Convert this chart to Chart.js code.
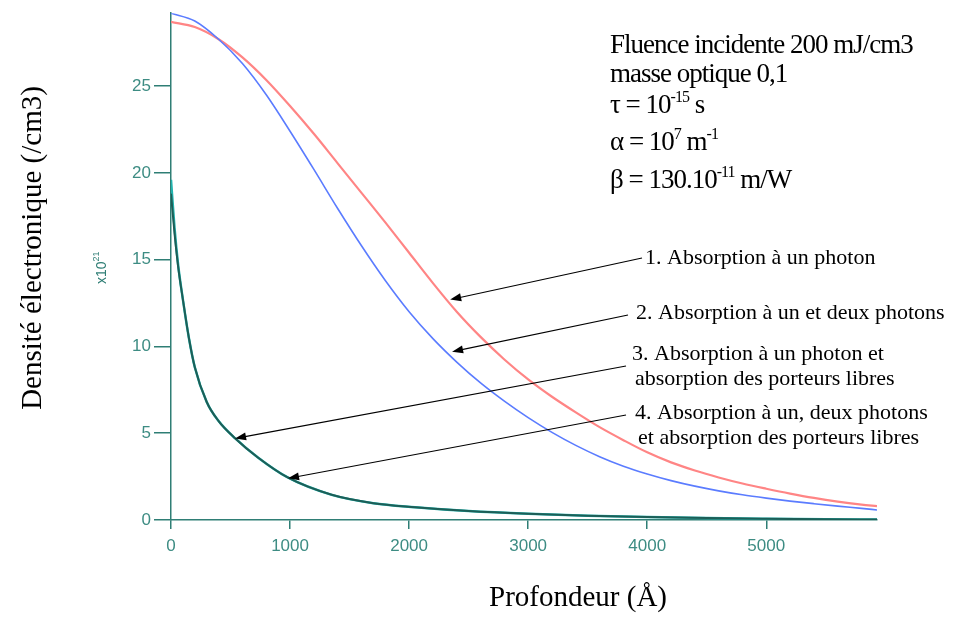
<!DOCTYPE html>
<html>
<head>
<meta charset="utf-8">
<script src="https://cdn.jsdelivr.net/npm/chart.js@4.4.1/dist/chart.umd.min.js"></script>
<style>
    html, body { margin: 0; padding: 0; background: #fff; }
    #wrap { width: 954px; height: 618px; position: relative; }
</style>
</head>
<body>
<div id="wrap"><canvas id="chart"></canvas></div>
<script>
// profondeur (Angstrom) / densité (x10^21 /cm3)
const depthRed = [0, 200, 400, 600, 800, 1000, 1200, 1400, 1600, 1800, 2000, 2200, 2400, 2600, 2800, 3000, 3200, 3400, 3600, 3800, 4000, 4200, 4400, 4600, 4800, 5000, 5200, 5400, 5600, 5800, 5930];
const densRed = [28.7, 28.4, 27.7, 26.65, 25.35, 23.85, 22.25, 20.55, 18.85, 17.15, 15.4, 13.65, 12.0, 10.55, 9.25, 8.1, 7.1, 6.2, 5.35, 4.6, 3.9, 3.32, 2.85, 2.45, 2.1, 1.8, 1.52, 1.27, 1.06, 0.89, 0.8];

const depthBlue = [0, 200, 400, 600, 800, 1000, 1200, 1400, 1600, 1800, 2000, 2200, 2400, 2600, 2800, 3000, 3200, 3400, 3600, 3800, 4000, 4200, 4400, 4600, 4800, 5000, 5200, 5400, 5600, 5800, 5930];
const densBlue = [29.2, 28.75, 27.7, 26.3, 24.5, 22.4, 20.2, 17.95, 15.8, 13.8, 12.0, 10.45, 9.1, 7.9, 6.85, 5.9, 5.05, 4.3, 3.65, 3.1, 2.65, 2.27, 1.95, 1.68, 1.45, 1.26, 1.09, 0.94, 0.8, 0.67, 0.58];

const depthFree = [0, 30, 60, 100, 150, 200, 300, 400, 540, 730, 980, 1350, 1700, 2050, 2500, 3000, 3500, 4000, 4500, 5000, 5500, 5930];
const densFree1 = [18.8, 16.5, 14.6, 12.7, 10.5, 8.8, 6.8, 5.7, 4.7, 3.6, 2.45, 1.45, 0.97, 0.74, 0.52, 0.36, 0.25, 0.17, 0.11, 0.07, 0.04, 0.03];
const densFree2 = [19.6, 16.8, 14.7, 12.7, 10.5, 8.8, 6.8, 5.7, 4.7, 3.6, 2.45, 1.45, 0.97, 0.74, 0.52, 0.36, 0.25, 0.17, 0.11, 0.07, 0.04, 0.03];

const xTicks = [0, 1000, 2000, 3000, 4000, 5000];
const yTicks = [0, 5, 10, 15, 20, 25];

const curveLabels = [
    ["1. Absorption à un photon"],
    ["2. Absorption à un et deux photons"],
    ["3. Absorption à un photon et", "absorption des porteurs libres"],
    ["4. Absorption à un, deux photons", "et absorption des porteurs libres"],
];
// pointes des flèches, en unités des axes
const arrowDepth = [2345, 2361, 538, 983];
const arrowDens = [12.7, 9.7, 4.7, 2.4];

const header = [
    [["Fluence incidente 200 mJ/cm3"]],
    [["masse optique 0,1"]],
    [["τ = 10"], ["-15", 1], [" s"]],
    [["α = 10"], ["7", 1], [" m"], ["-1", 1]],
    [["β = 130.10"], ["-11", 1], [" m/W"]],
];

const SERIF = '"Liberation Serif", "Times New Roman", serif',
    SANS = '"Liberation Sans", Arial, sans-serif',
    TEAL = "#2f7e75";

function pts(xs, ys) {
    return xs.map((x, i) => ({ x, y: ys[i] }));
}

function rich(ctx, x, y, parts, size) {
    parts.forEach(([t, sup]) => {
        ctx.font = (sup ? Math.round(size * 0.6) : size) + "px " + SERIF;
        ctx.fillText(t, x, sup ? y - size * 0.4 : y);
        x += ctx.measureText(t).width;
    });
}

function arrow(ctx, x1, y1, x2, y2) {
    const a = Math.atan2(y2 - y1, x2 - x1), len = 11, w = 4;
    ctx.beginPath();
    ctx.moveTo(x1, y1);
    ctx.lineTo(x2 - Math.cos(a) * len * 0.8, y2 - Math.sin(a) * len * 0.8);
    ctx.stroke();
    ctx.beginPath();
    ctx.moveTo(x2, y2);
    ctx.lineTo(x2 - Math.cos(a) * len - Math.sin(a) * w, y2 - Math.sin(a) * len + Math.cos(a) * w);
    ctx.lineTo(x2 - Math.cos(a) * len + Math.sin(a) * w, y2 - Math.sin(a) * len - Math.cos(a) * w);
    ctx.closePath();
    ctx.fill();
}

const notes = {
    id: "notes",
    afterDraw(chart) {
        const { ctx, scales: { x, y } } = chart;
        ctx.save();
        ctx.fillStyle = "#000";
        ctx.strokeStyle = "#000";
        ctx.textBaseline = "alphabetic";
        ctx.textAlign = "left";

        // paramètres en haut à droite
        ctx.letterSpacing = "-1px";
        const hy = [53, 82, 113, 150, 188];
        header.forEach((parts, i) => rich(ctx, 610, hy[i], parts, 27));

        // légendes des courbes
        ctx.letterSpacing = "0px";
        ctx.font = "22px " + SERIF;
        const lx = [645, 636, 632, 635], ly = [264, 319, 360, 419];
        curveLabels.forEach((lines, i) => {
            lines.forEach((t, j) => ctx.fillText(t, lx[i] + (j ? 3 : 0), ly[i] + j * 25));
        });

        // flèches
        const from = [[642, 258], [628, 315], [626, 366], [626, 415]];
        ctx.lineWidth = 1.2;
        from.forEach(([fx, fy], i) => {
            arrow(ctx, fx, fy, x.getPixelForValue(arrowDepth[i]), y.getPixelForValue(arrowDens[i]));
        });

        // titres des axes
        ctx.font = "29px " + SERIF;
        ctx.textAlign = "center";
        ctx.textBaseline = "middle";
        ctx.fillText("Profondeur (Å)", 578, 598);
        ctx.save();
        ctx.translate(33, 248);
        ctx.rotate(-Math.PI / 2);
        ctx.fillText("Densité électronique (/cm3)", 0, 0);
        ctx.restore();

        // facteur x10^21
        ctx.textAlign = "left";
        ctx.textBaseline = "alphabetic";
        ctx.translate(106, 268);
        ctx.rotate(-Math.PI / 2);
        ctx.fillStyle = TEAL;
        ctx.font = "14px " + SANS;
        ctx.fillText("x10", -16, 0);
        const w = ctx.measureText("x10").width;
        ctx.font = "9px " + SANS;
        ctx.fillText("21", -16 + w, -7);
        ctx.restore();
    }
};

new Chart(document.getElementById("chart"), {
    type: "line",
    data: {
        datasets: [{
            label: "3",
            data: pts(depthFree, densFree1),
            borderColor: "#1d5e57",
            borderWidth: 2,
        }, {
            label: "4",
            data: pts(depthFree, densFree2),
            borderColor: "#22b3ae",
            borderWidth: 2.5,
        }, {
            label: "2",
            data: pts(depthBlue, densBlue),
            borderColor: "#5b7cff",
            borderWidth: 1.6,
        }, {
            label: "1",
            data: pts(depthRed, densRed),
            borderColor: "#ff8585",
            borderWidth: 2.2,
        }]
    },
    options: {
        responsive: true,
        maintainAspectRatio: false,
        animation: false,
        layout: { padding: { left: 0, right: 77, top: 9, bottom: 0 } },
        elements: {
            point: { radius: 0 },
            line: { cubicInterpolationMode: "monotone", fill: false }
        },
        plugins: {
            legend: { display: false },
            tooltip: { enabled: false }
        },
        scales: {
            x: {
                type: "linear",
                min: 0,
                max: 5930,
                afterFit: s => { s.height = 98; },
                afterBuildTicks: s => { s.ticks = xTicks.map(v => ({ value: v })); },
                grid: { drawOnChartArea: false, drawTicks: true, tickLength: 9, color: TEAL, lineWidth: 1.5 },
                border: { color: TEAL, width: 1.5 },
                ticks: {
                    color: "#3d8c83",
                    font: { family: SANS, size: 17 },
                    padding: 7,
                    maxRotation: 0,
                    callback: v => String(v)
                }
            },
            y: {
                min: 0,
                max: 29.2,
                afterFit: s => { s.width = 171; },
                afterBuildTicks: s => { s.ticks = yTicks.map(v => ({ value: v })); },
                grid: { drawOnChartArea: false, drawTicks: true, tickLength: 17, color: TEAL, lineWidth: 1.5 },
                border: { color: TEAL, width: 1.5 },
                ticks: {
                    color: "#3d8c83",
                    font: { family: SANS, size: 17 },
                    padding: 3
                }
            }
        }
    },
    plugins: [notes]
});
</script>
</body>
</html>
